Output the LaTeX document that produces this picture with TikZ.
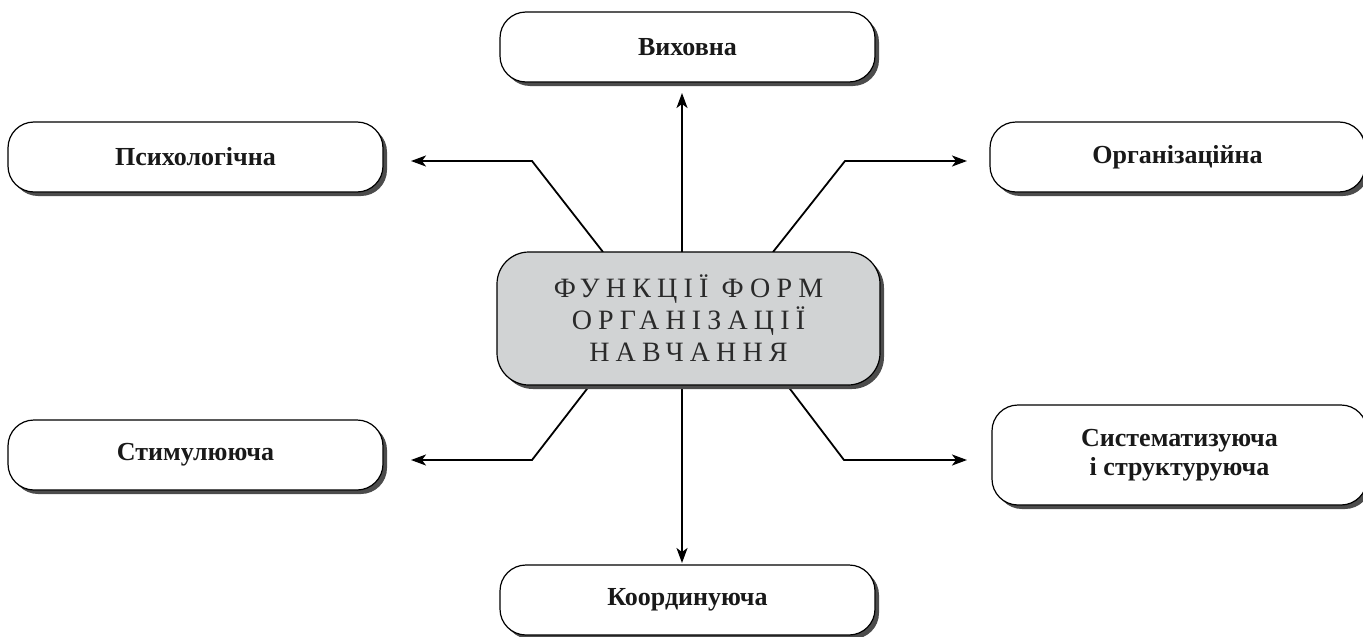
\documentclass[tikz,border=0pt]{standalone}
\usepackage{fontspec}
\setmainfont{Liberation Serif}
\usetikzlibrary{shadows,arrows.meta,backgrounds}
\definecolor{boxgray}{HTML}{D1D3D4}
\definecolor{txtgray}{HTML}{2A2A2A}
\tikzset{
  fbox/.style={draw=black, line width=1.2pt, fill=white, rounded corners=26pt,
    minimum width=375pt, minimum height=70pt, inner sep=0pt, align=center,
    font=\fontsize{26}{29}\selectfont\bfseries, text=black!90,
    drop shadow={shadow xshift=4pt, shadow yshift=-4pt, fill=black!70, opacity=1}},
  cbox/.style={fbox, fill=boxgray, rounded corners=32pt, minimum width=383pt, minimum height=133pt,
    font=\fontsize{28}{32}\selectfont\addfontfeature{LetterSpace=22}, text=txtgray},
  conn/.style={line width=1.8pt, -{Stealth[length=15pt,width=11pt,inset=4pt]}},
}
\begin{document}
\begin{tikzpicture}[x=1pt,y=-1pt]
\useasboundingbox (0,0) rectangle (1363,637);
\node[cbox] (c) at (688.5,318.5) {ФУНКЦІЇ ФОРМ\\ОРГАНІЗАЦІЇ\\НАВЧАННЯ};
\node[fbox] (v) at (687.5,47) {Виховна};
\node[fbox] (p) at (195.5,157) {Психологічна};
\node[fbox] (o) at (1177.5,157) {Організаційна};
\node[fbox] (s) at (195.5,455) {Стимулююча};
\node[fbox, minimum height=100pt] (sys) at (1179.5,455) {Систематизуюча\\і структуруюча};
\node[fbox] (k) at (687.5,600) {Координуюча};
% connector points
\coordinate (cu) at (682,252);
\coordinate (vt) at (682,93);
\coordinate (cd) at (682,385);
\coordinate (kt) at (682,563);
\coordinate (cul) at (603,252);
\coordinate (bul) at (532,161);
\coordinate (pt) at (411,161);
\coordinate (cur) at (773,252);
\coordinate (bur) at (845,161);
\coordinate (ot) at (967,161);
\coordinate (cdl) at (590,385);
\coordinate (bdl) at (532,460);
\coordinate (st) at (411,460);
\coordinate (cdr) at (787,385);
\coordinate (bdr) at (844,460);
\coordinate (syt) at (967,460);
\begin{scope}[on background layer]
\draw[conn] (cu) -- (vt);
\draw[conn] (cd) -- (kt);
\draw[conn] (cul) -- (bul) -- (pt);
\draw[conn] (cur) -- (bur) -- (ot);
\draw[conn] (cdl) -- (bdl) -- (st);
\draw[conn] (cdr) -- (bdr) -- (syt);
\end{scope}
\end{tikzpicture}
\end{document}
